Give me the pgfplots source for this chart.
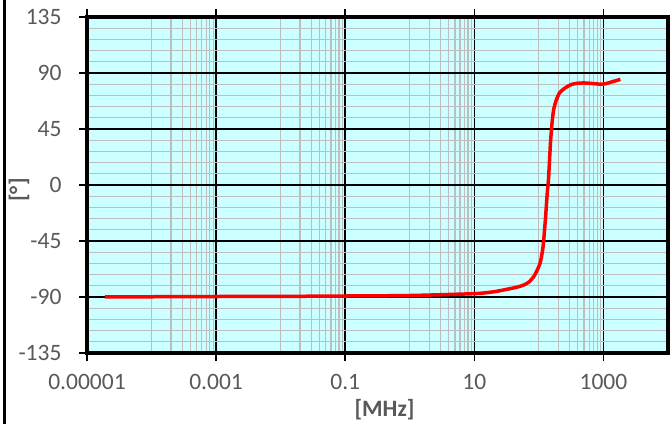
\documentclass[border=0pt]{standalone}
\usepackage{fontspec}
\setmainfont{Carlito}
\usepackage{pgfplots}
\pgfplotsset{compat=1.18}
\definecolor{bgc}{HTML}{CCFFFF}
\definecolor{lbl}{HTML}{595959}
\definecolor{mgrid}{RGB}{190,190,190}
\begin{document}
\begin{tikzpicture}[x=1bp,y=1bp]
\useasboundingbox (0,0) rectangle (670,423);
\draw[line width=3bp] (4.5,-2) -- (4.5,425);
\begin{axis}[
  at={(87bp,70bp)}, anchor=south west, scale only axis,
  width=581bp, height=336bp,
  xmode=log, xmin=1e-5, xmax=1e4, ymin=-135, ymax=135,
  axis background/.style={fill=bgc},
  xtick={1e-5,1e-3,0.1,10,1000},
  xticklabels={0.00001,0.001,0.1,10,1000},
  minor xtick={1e-4,2e-4,3e-4,4e-4,5e-4,6e-4,7e-4,8e-4,9e-4,
               1e-2,2e-2,3e-2,4e-2,5e-2,6e-2,7e-2,8e-2,9e-2,
               1,2,3,4,5,6,7,8,9,
               100,200,300,400,500,600,700,800,900},
  ytick={-135,-90,-45,0,45,90,135},
  yticklabels={-135,-90,-45,0,45,90,135},
  minor ytick={-126,-117,-108,-99,-81,-72,-63,-54,-36,-27,-18,-9,9,18,27,36,54,63,72,81,99,108,117,126},
  grid=both,
  major grid style={black, line width=1.5bp},
  minor grid style={draw=mgrid, line width=1.2bp},
  axis line style={black, line width=3.5bp},
  tick align=outside,
  major tick length=8bp, minor tick length=0pt,
  tick style={black, line width=1.5bp},
  ticklabel style={font=\fontsize{23.5bp}{28bp}\selectfont, text=lbl},
  xticklabel style={anchor=north, yshift=-10bp},
  yticklabel style={anchor=east, xshift=-14bp},
  xlabel={[MHz]}, ylabel={[°]},
  label style={font=\fontsize{23.5bp}{28bp}\selectfont\bfseries, text=lbl},
  xlabel style={at={(rel axis cs:0.5,0)}, anchor=center, yshift=-57bp, xshift=7bp},
  ylabel style={at={(rel axis cs:0,0.5)}, anchor=center, yshift=68bp, xshift=-5bp},
]
\addplot[red, line width=3.5bp, smooth, tension=0.4, line join=round] coordinates {
(1.9e-5,-89.8) (1e-4,-89.8) (1e-3,-89.6) (1e-2,-89.5) (0.1,-89.2) (1,-88.8)
(10,-87.3) (20,-85.8) (32,-83.8) (45,-82.2) (58,-80.4) (70,-78) (83,-73.7)
(95,-68) (105.5,-62) (116,-49.6) (126,-28) (134,-8) (141,5) (151,33.5)
(160,50) (169,60.3) (185,68) (208,73.9) (240,77) (273,79) (320,80.8)
(391,81.7) (500,82) (628,81.7) (795,81.2) (955,81.0) (1100,81.5)
(1280,82.5) (1550,83.8) (1830,84.9)
};
\end{axis}
\end{tikzpicture}
\end{document}
